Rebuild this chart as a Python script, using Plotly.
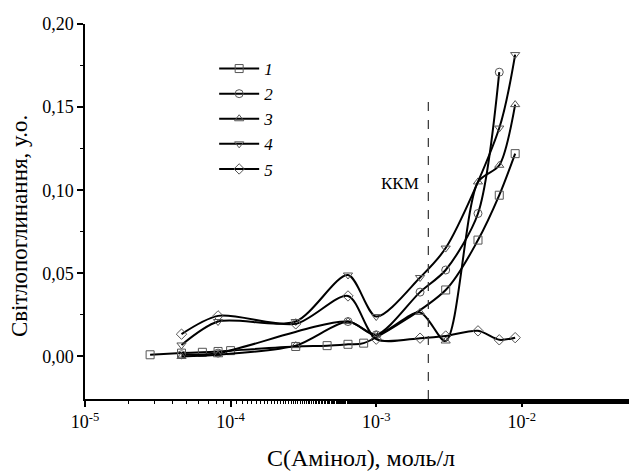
import plotly.graph_objects as go
import math

# ---- data ----
x1 = [2.8e-5, 4.6e-5, 6.4e-5, 8.2e-5, 1.0e-4, 2.8e-4, 4.6e-4, 6.4e-4, 8.2e-4, 3.0e-3, 5.0e-3, 7.0e-3, 9.0e-3]
y1 = [0.001, 0.002, 0.0025, 0.003, 0.0035, 0.006, 0.0065, 0.0073, 0.008, 0.040, 0.070, 0.097, 0.122]

x2 = [4.6e-5, 8.2e-5, 6.4e-4, 1.0e-3, 2.0e-3, 3.0e-3, 5.0e-3, 7.0e-3]
y2 = [0.001, 0.002, 0.021, 0.013, 0.0387, 0.052, 0.086, 0.171]

x3 = [4.6e-5, 8.2e-5, 2.8e-4, 6.4e-4, 1.0e-3, 2.0e-3, 3.0e-3, 5.0e-3, 7.0e-3, 9.0e-3]
y3 = [0.000, 0.001, 0.0065, 0.021, 0.013, 0.0265, 0.0093, 0.105, 0.115, 0.1515]

x4 = [4.6e-5, 8.2e-5, 2.8e-4, 6.4e-4, 1.0e-3, 2.0e-3, 3.0e-3, 7.0e-3, 9.0e-3]
y4 = [0.0069, 0.021, 0.021, 0.049, 0.024, 0.0475, 0.0652, 0.1374, 0.1816]

x5 = [4.6e-5, 8.2e-5, 2.8e-4, 6.4e-4, 1.0e-3, 2.0e-3, 3.0e-3, 5.0e-3, 7.0e-3, 9.0e-3]
y5 = [0.0134, 0.0244, 0.0196, 0.0364, 0.0104, 0.011, 0.0123, 0.0154, 0.010, 0.0113]

series_names = ["1", "2", "3", "4", "5"]
series_symbols = ["square-open", "circle-open", "triangle-up-open", "triangle-down-open", "diamond-open"]

kkm_x = 2.28e-3
kkm_y = [-0.0256, 0.155]

y_tickvals = [0.00, 0.05, 0.10, 0.15, 0.20]
y_ticktext = ["0,00", "0,05", "0,10", "0,15", "0,20"]
x_tickvals = [1e-5, 1e-4, 1e-3, 1e-2]
x_ticktext = ["10<sup>-5</sup>", "10<sup>-4</sup>", "10<sup>-3</sup>", "10<sup>-2</sup>"]

FONT = "'Liberation Serif', 'Times New Roman', Times, serif"

fig = go.Figure()
xs = [x1, x2, x3, x4, x5]
ys = [y1, y2, y3, y4, y5]
for name, sym, xx, yy in zip(series_names, series_symbols, xs, ys):
    fig.add_trace(go.Scatter(
        x=xx, y=yy, mode="lines+markers", name="<i>%s</i>" % name,
        line=dict(color="black", width=2, shape="spline", smoothing=0.8),
        marker=dict(symbol=sym, size=8, color="#555555", line=dict(width=1, color="#555555")),
    ))

fig.add_trace(go.Scatter(
    x=[kkm_x, kkm_x], y=kkm_y, mode="lines", showlegend=False,
    line=dict(color="#333333", width=1.2, dash="dash"),
))

fig.add_annotation(x=math.log10(kkm_x) - 0.195, y=0.104, text="ККМ", showarrow=False,
                   font=dict(family=FONT, size=17, color="black"))

# y-axis title as a rotated annotation (reference title sits slightly below centre)
fig.add_annotation(xref="paper", yref="paper", x=-0.1196, y=0.461,
                   text="Світлопоглинання, у.о.", textangle=-90, showarrow=False,
                   xanchor="center", yanchor="middle",
                   font=dict(family=FONT, size=23, color="black"))

# page body has an 8px margin, so the figure is offset by 8px right and down
fig.update_layout(
    width=629, height=466,
    margin=dict(l=77, r=0, t=16, b=75, autoexpand=False),
    paper_bgcolor="white", plot_bgcolor="white",
    font=dict(family=FONT, size=18, color="black"),
    legend=dict(x=0.234, y=0.928, xanchor="left", yanchor="top",
                bgcolor="rgba(0,0,0,0)", font=dict(family=FONT, size=17),
                tracegroupgap=0, itemwidth=40),
    showlegend=True,
)

fig.update_xaxes(
    type="log", range=[-5, -1.209], automargin=False,
    tickvals=x_tickvals, ticktext=x_ticktext,
    ticks="outside", ticklen=6, tickwidth=1.5, tickcolor="black",
    minor=dict(ticks="outside", ticklen=3, tickwidth=1.2, tickcolor="black", showgrid=False),
    showline=True, linecolor="black", linewidth=1.5,
    showgrid=False, zeroline=False,
    title=dict(text="С(Амінол), моль/л", font=dict(family=FONT, size=24), standoff=18),
    tickfont=dict(family=FONT, size=18),
)
fig.update_yaxes(
    range=[-0.0256, 0.20], automargin=False,
    tickvals=y_tickvals, ticktext=y_ticktext,
    ticks="outside", ticklen=6, tickwidth=1.5, tickcolor="black",
    minor=dict(ticks="outside", ticklen=3, tickwidth=1.2, tickcolor="black",
               tickvals=[0.025, 0.075, 0.125, 0.175], showgrid=False),
    showline=True, linecolor="black", linewidth=1.5,
    showgrid=False, zeroline=False,
    tickfont=dict(family=FONT, size=18),
)

fig.write_html("out.html")
